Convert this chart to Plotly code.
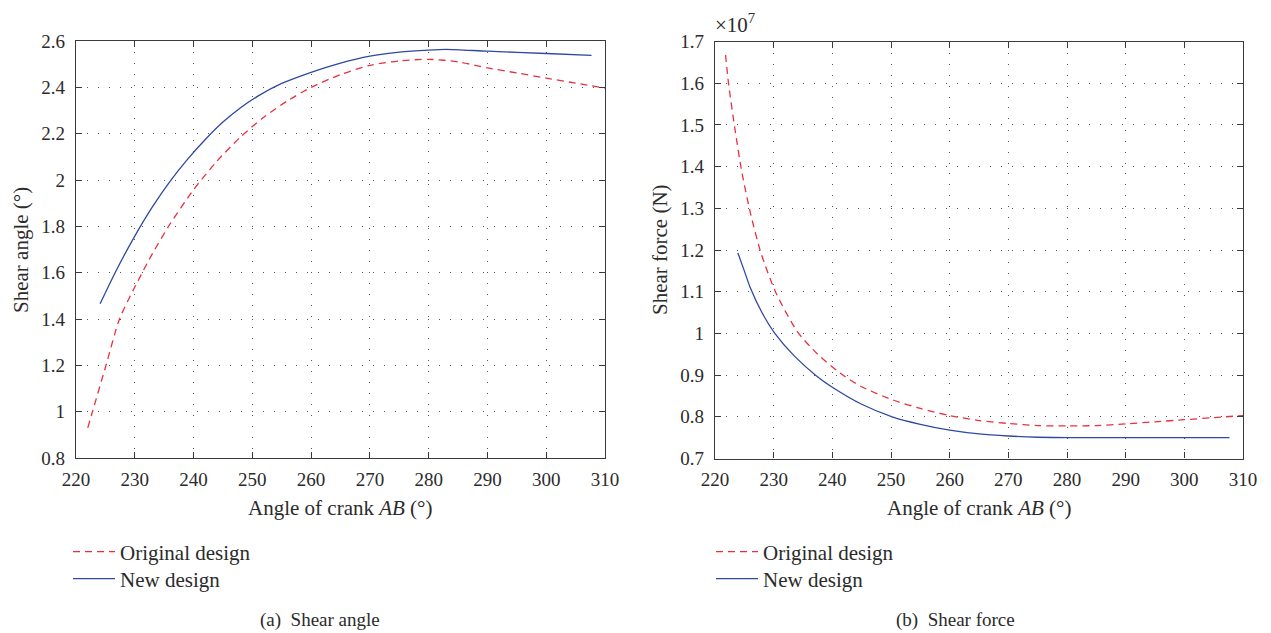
import plotly.graph_objects as go

# ---------------- data ----------------
# (a) Shear angle (deg) vs angle of crank AB (deg)
angle_a_orig = [222, 222.8, 225.1, 227.4, 230, 233, 236, 240, 244, 248, 252, 256, 260, 265,
                270, 275, 280, 285, 290, 295, 300, 305, 310]
shear_angle_orig = [0.93, 1.0, 1.2, 1.4, 1.538, 1.682, 1.81, 1.958, 2.082, 2.186, 2.272, 2.342,
                    2.40, 2.455, 2.495, 2.514, 2.521, 2.51, 2.484, 2.462, 2.44, 2.418, 2.397]
angle_a_new = [224.1, 227, 230, 233, 236, 239, 242, 245, 248, 251, 255, 260, 265, 270, 275,
               280, 283, 290, 300, 307.7]
shear_angle_new = [1.466, 1.617, 1.758, 1.884, 1.994, 2.09, 2.175, 2.25, 2.312, 2.363, 2.417,
                   2.465, 2.505, 2.535, 2.552, 2.561, 2.564, 2.556, 2.546, 2.538]

# (b) Shear force (x1e7 N) vs angle of crank AB (deg)
angle_b_orig = [221.8, 222.3, 223.4, 224.6, 226.1, 227.9, 230.4, 234.0, 237.5, 241.3, 245,
                250.2, 255, 260, 265, 270, 275, 280, 285, 290, 295, 300, 305, 310]
shear_force_orig = [1.668, 1.60, 1.49, 1.385, 1.285, 1.19, 1.097, 1.005, 0.95, 0.905, 0.872,
                    0.841, 0.82, 0.803, 0.791, 0.784, 0.779, 0.778, 0.779, 0.783, 0.788, 0.793,
                    0.798, 0.803]
angle_b_new = [223.9, 225, 226, 228, 230.2, 233.5, 237.3, 240.2, 245, 250.2, 255, 260, 265,
               270, 275, 280, 290, 300, 307.7]
shear_force_new = [1.193, 1.15, 1.11, 1.05, 1.0, 0.946, 0.898, 0.869, 0.83, 0.80, 0.782, 0.768,
                   0.759, 0.754, 0.751, 0.75, 0.75, 0.75, 0.75]

x_ticks = [220, 230, 240, 250, 260, 270, 280, 290, 300, 310]
ya_ticks = [0.8, 1.0, 1.2, 1.4, 1.6, 1.8, 2.0, 2.2, 2.4, 2.6]
yb_ticks = [0.7, 0.8, 0.9, 1.0, 1.1, 1.2, 1.3, 1.4, 1.5, 1.6, 1.7]

RED = "#e8303f"
BLUE = "#2f48a2"
FONT = "Liberation Serif"
TXT = "#2b2b2b"
OFF = 8                      # page body margin of the browser
W, H = 1271 - OFF, 633 - OFF


def px(x):
    return (x - OFF) / W


def py(y):
    return 1 - (y - OFF) / H


def fmt(v):
    return ("%g" % v)


red_line = dict(color=RED, width=1.3, dash="7px,5px", shape="spline", smoothing=0.7)
blue_line = dict(color=BLUE, width=1.3, shape="spline", smoothing=0.7)

fig = go.Figure()
fig.add_trace(go.Scatter(x=angle_a_orig, y=shear_angle_orig, mode="lines", name="Original design",
                         line=red_line, xaxis="x", yaxis="y", legend="legend", showlegend=True))
fig.add_trace(go.Scatter(x=angle_a_new, y=shear_angle_new, mode="lines", name="New design",
                         line=blue_line, xaxis="x", yaxis="y", legend="legend2", showlegend=True))
fig.add_trace(go.Scatter(x=angle_b_orig, y=shear_force_orig, mode="lines", name="Original design",
                         line=red_line, xaxis="x2", yaxis="y2", legend="legend3", showlegend=True))
fig.add_trace(go.Scatter(x=angle_b_new, y=shear_force_new, mode="lines", name="New design",
                         line=blue_line, xaxis="x2", yaxis="y2", legend="legend4", showlegend=True))

axis_common = dict(showline=True, linecolor="#3a3a3a", linewidth=1.3, mirror="ticks",
                   ticks="inside", ticklen=6, tickwidth=1.3, tickcolor="#3a3a3a",
                   showgrid=True, gridcolor="#555555", gridwidth=1, griddash="1px,10px",
                   zeroline=False, automargin=False,
                   tickfont=dict(family=FONT, size=19, color=TXT))

legend_common = dict(xanchor="left", yanchor="middle", itemwidth=42,
                     font=dict(family=FONT, size=21, color=TXT), bgcolor="rgba(0,0,0,0)",
                     borderwidth=0)

fig.update_layout(
    width=W, height=H, margin=dict(l=0, r=0, t=0, b=0, autoexpand=False),
    paper_bgcolor="white", plot_bgcolor="white", showlegend=True,
    font=dict(family=FONT, color=TXT, size=19),
    xaxis=dict(domain=[px(76), px(605)], range=[220, 310], tickvals=x_ticks,
               ticktext=[fmt(v) for v in x_ticks], anchor="y", ticklabelstandoff=4, **axis_common),
    yaxis=dict(domain=[py(458), py(41)], range=[0.8, 2.6], tickvals=ya_ticks,
               ticktext=[fmt(v) for v in ya_ticks], anchor="x", ticklabelstandoff=6, **axis_common),
    xaxis2=dict(domain=[px(715), px(1243)], range=[220, 310], tickvals=x_ticks,
                ticktext=[fmt(v) for v in x_ticks], anchor="y2", ticklabelstandoff=4, **axis_common),
    yaxis2=dict(domain=[py(458.5), py(41.5)], range=[0.7, 1.7], tickvals=yb_ticks,
                ticktext=[fmt(v) for v in yb_ticks], anchor="x2", ticklabelstandoff=6, **axis_common),
    legend=dict(x=px(68), y=py(552), **legend_common),
    legend2=dict(x=px(68), y=py(579), **legend_common),
    legend3=dict(x=px(711), y=py(552), **legend_common),
    legend4=dict(x=px(711), y=py(579), **legend_common),
)

ann = []
ann.append(dict(text="Angle of crank <i>AB</i> (°)", x=px(340.5), y=py(508)))
ann.append(dict(text="Angle of crank <i>AB</i> (°)", x=px(979), y=py(508)))
ann.append(dict(text="Shear angle (°)", x=px(21), y=py(250), textangle=-90))
ann.append(dict(text="Shear force (N)", x=px(660), y=py(250), textangle=-90))
ann.append(dict(text="(a)  Shear angle", x=px(320), y=py(620), size=19))
ann.append(dict(text="(b)  Shear force", x=px(955.5), y=py(620), size=19))
ann.append(dict(text="×10<sup>7</sup>", x=px(735), y=py(9), size=21, yanchor="top"))
for a in ann:
    size = a.pop("size", 21)
    a.setdefault("yanchor", "middle")
    a.update(xref="paper", yref="paper", showarrow=False, xanchor="center", borderpad=0,
             font=dict(family=FONT, size=size, color=TXT))
fig.update_layout(annotations=ann)

fig.write_html("out.html")
